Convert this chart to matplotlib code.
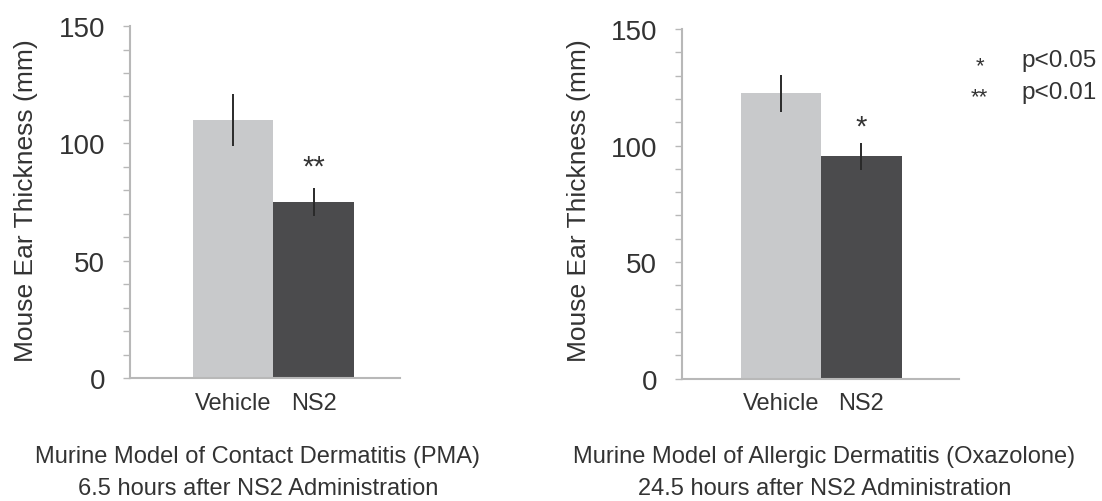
import matplotlib
matplotlib.use("Agg")
import matplotlib.pyplot as plt
from matplotlib.ticker import MultipleLocator

plt.rcParams["font.family"] = ["Liberation Sans", "DejaVu Sans"]

# Data
groups = ["Vehicle", "NS2"]
pma_means = [110, 75]
pma_errs = [11, 6]
oxa_means = [122.5, 95.5]
oxa_errs = [8, 5.8]
pma_marks = ["", "**"]
oxa_marks = ["", "*"]
captions = [
    "Murine Model of Contact Dermatitis (PMA)\n6.5 hours after NS2 Administration",
    "Murine Model of Allergic Dermatitis (Oxazolone)\n24.5 hours after NS2 Administration",
]
legend_marks = ["*", "**"]
legend_labels = ["p<0.05", "p<0.01"]

bar_colors = ["#c8c9cb", "#4b4b4d"]
axis_color = "#b8b8b8"
text_color = "#333333"

fig = plt.figure(figsize=(11.02, 5.02), dpi=100)
ax1 = fig.add_axes([0.118, 0.245, 0.245, 0.701])
ax2 = fig.add_axes([0.619, 0.244, 0.251, 0.696])


def draw_panel(ax, means, errs, marks, xlim, mark_y):
    x = range(len(groups))
    ax.bar(x, means, width=1.0, color=bar_colors, zorder=2)
    ax.errorbar(x, means, yerr=errs, fmt="none", ecolor="#2a2a2a",
                elinewidth=1.4, capsize=0, zorder=3)
    for xi, m, y in zip(x, marks, mark_y):
        if m:
            ax.text(xi, y, m, ha="center", va="center", fontsize=21,
                    color=text_color)
    ax.set_xlim(*xlim)
    ax.set_ylim(0, 150)
    ax.set_yticks([0, 50, 100, 150])
    ax.yaxis.set_minor_locator(MultipleLocator(10))
    ax.set_xticks(list(x))
    ax.set_xticklabels(groups, fontsize=17, color=text_color)
    ax.tick_params(axis="x", length=0, pad=10)
    ax.tick_params(axis="y", which="both", length=5, width=1,
                   color=axis_color, direction="out")
    ax.tick_params(axis="y", which="major", labelsize=20,
                   labelcolor=text_color, pad=13)
    for side in ["top", "right"]:
        ax.spines[side].set_visible(False)
    for side in ["left", "bottom"]:
        ax.spines[side].set_color(axis_color)
        ax.spines[side].set_linewidth(1.5)


draw_panel(ax1, pma_means, pma_errs, pma_marks, (-1.275, 2.07), [0, 90])
draw_panel(ax2, oxa_means, oxa_errs, oxa_marks, (-1.23, 2.21), [0, 108])

fig.text(0.024, 0.60, "Mouse Ear Thickness (mm)", rotation=90,
         ha="center", va="center", fontsize=19, color=text_color)
fig.text(0.525, 0.60, "Mouse Ear Thickness (mm)", rotation=90,
         ha="center", va="center", fontsize=19, color=text_color)

fig.text(0.234, 0.058, captions[0], ha="center", va="center",
         fontsize=17, color=text_color, linespacing=1.6)
fig.text(0.748, 0.058, captions[1], ha="center", va="center",
         fontsize=17, color=text_color, linespacing=1.6)

for i, (m, lab) in enumerate(zip(legend_marks, legend_labels)):
    y = 0.878 - i * 0.063
    fig.text(0.889, y - 0.01, m, ha="center", va="center", fontsize=16,
             color=text_color)
    fig.text(0.927, y, lab, ha="left", va="center", fontsize=17.5,
             color=text_color)

fig.savefig("out.png", dpi=100)
